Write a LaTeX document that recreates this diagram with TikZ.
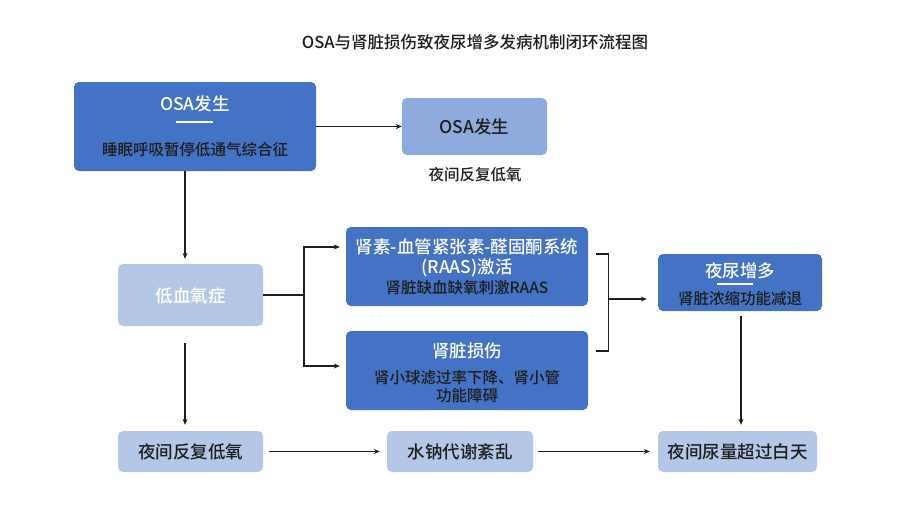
\documentclass[tikz,border=0pt]{standalone}
\usepackage{fontspec}
\setmainfont{Noto Sans CJK SC}[BoldFont={Noto Sans CJK SC Medium}]
\usetikzlibrary{arrows.meta}
\definecolor{dk}{HTML}{4472C4}
\definecolor{md}{HTML}{8FAADC}
\definecolor{lt}{HTML}{B4C7E7}
\definecolor{ink}{HTML}{1E1E1E}
\tikzset{
  box/.style={rectangle, rounded corners=5pt, inner sep=0pt, draw=none},
  darkbox/.style={box, fill=dk},
  midbox/.style={box, fill=md},
  lightbox/.style={box, fill=lt},
  big/.style={inner sep=0pt, font=\fontsize{17.5}{20}\selectfont\bfseries},
  small/.style={inner sep=0pt, font=\fontsize{15.5}{18}\selectfont\bfseries},
  wt/.style={text=white},
  dt/.style={text=ink},
  conn/.style={draw=ink, line width=1.1pt},
  arr/.style={conn, -{Stealth[length=6pt,width=5pt]}},
  uline/.style={draw=white, line width=1.6pt}
}
\begin{document}
\begin{tikzpicture}[x=1pt,y=-1pt]
\useasboundingbox[fill=white] (0,0) rectangle (900,528);
% title
\node[inner sep=0pt, font=\fontsize{16.5}{19}\selectfont\bfseries, dt] (title) at (475,42) {OSA与肾脏损伤致夜尿增多发病机制闭环流程图};
% boxes
\node[darkbox, minimum width=242pt, minimum height=89pt] (osa) at (195,126.5) {};
\node[midbox, minimum width=145pt, minimum height=57pt] (osa2) at (474.5,126.5) {};
\node[lightbox, minimum width=145pt, minimum height=62pt] (hypo) at (190.5,295) {};
\node[darkbox, minimum width=242pt, minimum height=79pt] (raas) at (467,266.5) {};
\node[darkbox, minimum width=242pt, minimum height=79pt] (kid) at (467,370.5) {};
\node[darkbox, minimum width=164pt, minimum height=57pt] (noct) at (740,282.5) {};
\node[lightbox, minimum width=145pt, minimum height=41pt] (b1) at (190.5,451.5) {};
\node[lightbox, minimum width=146pt, minimum height=41pt] (b2) at (460,451.5) {};
\node[lightbox, minimum width=159pt, minimum height=41pt] (b3) at (737.5,451.5) {};
% texts
\node[big, wt] (osaT) at (195,104) {OSA发生};
\draw[uline] (176,122) -- (213,122);
\node[small, dt] (osaS) at (195,150) {睡眠呼吸暂停低通气综合征};
\node[big, dt] (osa2T) at (474.5,127) {OSA发生};
\node[small, dt] (osa2S) at (475,175) {夜间反复低氧};
\node[big, wt] (hypoT) at (190.5,296) {低血氧症};
\node[big, wt] (raasT1) at (467,247) {肾素-血管紧张素-醛固酮系统};
\node[big, wt] (raasT2) at (467,268) {(RAAS)激活};
\node[small, dt] (raasS) at (467,288) {肾脏缺血缺氧刺激RAAS};
\node[big, wt] (kidT) at (467,351) {肾脏损伤};
\node[small, dt] (kidS1) at (467,378) {肾小球滤过率下降、肾小管};
\node[small, dt] (kidS2) at (467,396) {功能障碍};
\node[big, wt] (noctT) at (740,271) {夜尿增多};
\draw[uline] (717,284) -- (753,284);
\node[small, dt] (noctS) at (740,299) {肾脏浓缩功能减退};
\node[big, dt] (b1T) at (190.5,452) {夜间反复低氧};
\node[big, dt] (b2T) at (460,452) {水钠代谢紊乱};
\node[big, dt] (b3T) at (737.5,452) {夜间尿量超过白天};
% connectors
\draw[arr] (osa.east) -- (osa2.west);
\draw[arr] ([xshift=-10pt]osa.south) -- ([xshift=-5.5pt,yshift=5pt]hypo.north);
\draw[arr] ([xshift=-5.5pt,yshift=-17pt]hypo.south) -- ([xshift=-5.5pt,yshift=6pt]b1.north);
\coordinate (split) at (304,295);
\draw[conn] (hypo.east) -- (split);
\draw[arr, shorten >=6pt] (split) |- ([yshift=19.5pt]raas.west);
\draw[arr, shorten >=6pt] (split) |- ([yshift=4.5pt]kid.west);
\coordinate (brk) at (608,299);
\draw[conn] ([xshift=8pt,yshift=12.5pt]raas.east) -- ++(12,0) |- ([xshift=8pt,yshift=19.5pt]kid.east);
\draw[arr, shorten >=11pt] (brk) -- ([yshift=-16.5pt]noct.west);
\draw[arr] ([xshift=1pt,yshift=-5pt]noct.south) -- ([xshift=1pt,yshift=6pt]noct.south |- b3.north);
\draw[arr, shorten <=6pt, shorten >=7pt] (b1.east) -- (b2.west);
\draw[arr, shorten <=5pt, shorten >=8pt] (b2.east) -- (b3.west);
\end{tikzpicture}
\end{document}
